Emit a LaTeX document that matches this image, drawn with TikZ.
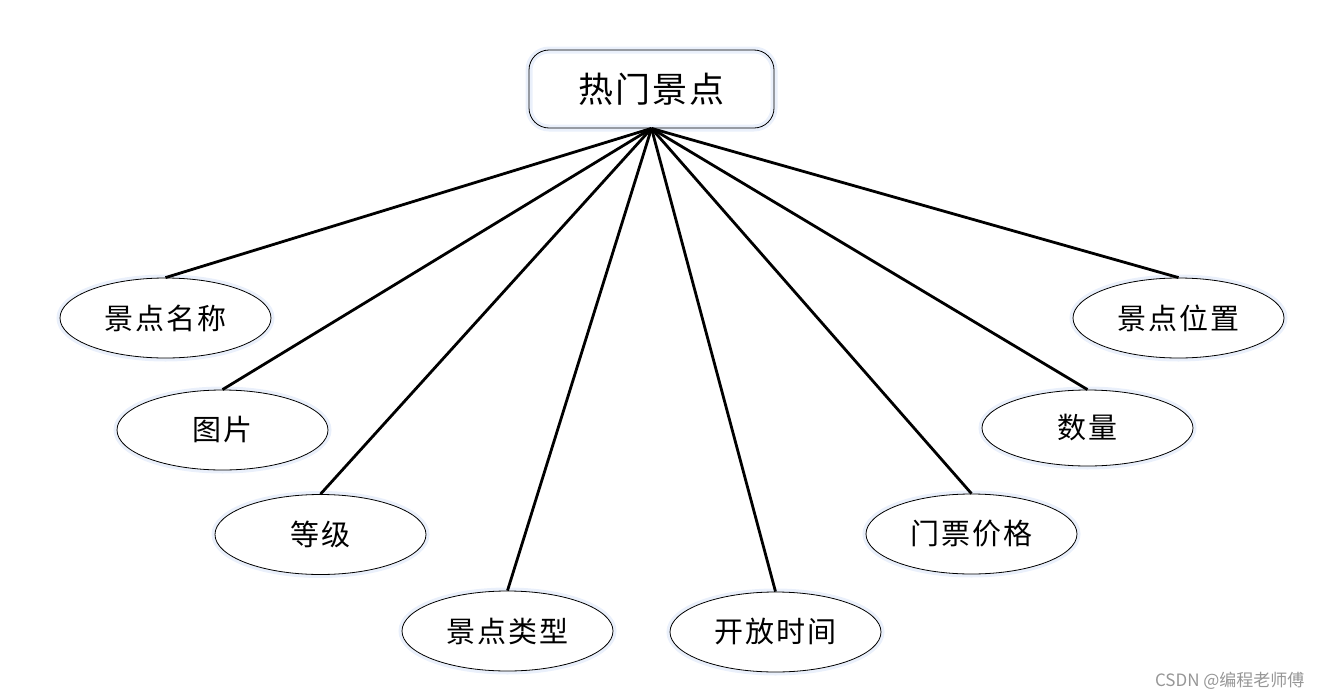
\documentclass[tikz,border=0pt]{standalone}
\usepackage{fontspec}
\newfontfamily\cjk[LetterSpace=6]{Noto Sans CJK SC}
\newfontfamily\cjkwm{Noto Sans CJK SC}
\definecolor{glow}{RGB}{234,240,251}
\definecolor{wmgray}{RGB}{150,150,150}
\tikzset{
  root/.style={draw=black, line width=0.8pt, rounded corners=20pt, minimum width=245pt, minimum height=78pt, inner sep=0pt,
    preaction={draw=glow, line width=7pt}, font=\cjk\fontsize{35}{40}\selectfont},
  attr/.style={ellipse, draw=black, line width=0.8pt, minimum width=211pt, minimum height=80pt, inner sep=0pt,
    preaction={draw=glow, line width=7pt}, fill=white, font=\cjk\fontsize{29}{34}\selectfont},
  link/.style={line width=2.8pt, black}
}
\usetikzlibrary{shapes.geometric}
\begin{document}
\begin{tikzpicture}[x=1pt,y=-1pt]
\useasboundingbox (0,0) rectangle (1323,699);
\node[root] (top) at (651.5,89) {热门景点};
\node[attr] (a1) at (165.5,318) {景点名称};
\node[attr] (a2) at (222.5,430) {图片};
\node[attr] (a3) at (320.5,534.5) {等级};
\node[attr] (a4) at (507.5,631) {景点类型};
\node[attr] (a5) at (775.5,632) {开放时间};
\node[attr] (a6) at (971.5,534) {门票价格};
\node[attr, minimum height=76pt] (a7) at (1087.5,428) {数量};
\node[attr] (a8) at (1178.5,318) {景点位置};
\foreach \n in {a1,a2,a3,a4,a5,a6,a7,a8}
  \draw[link] (top.south) -- (\n.north);
\node[font=\cjkwm\fontsize{17}{20}\selectfont, text=wmgray, anchor=east] (wm) at (1308,681) {CSDN @编程老师傅};
\end{tikzpicture}
\end{document}
